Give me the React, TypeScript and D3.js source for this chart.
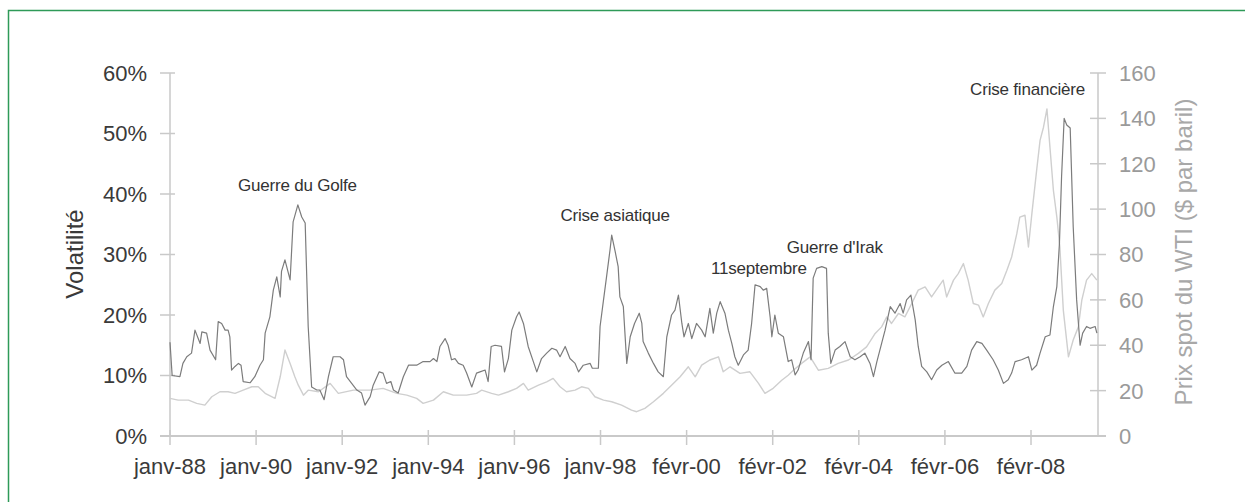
import React from "react";
import * as d3 from "d3";

// Volatility (% , left axis) — dates as decimal years
const volDates = [
  1988.0, 1988.05, 1988.23, 1988.3, 1988.39, 1988.5, 1988.58, 1988.7, 1988.74, 1988.85, 1988.93,
  1989.06, 1989.12, 1989.2, 1989.28, 1989.35, 1989.39, 1989.43, 1989.51, 1989.59, 1989.65, 1989.7,
  1989.86, 1989.97, 1990.09, 1990.17, 1990.21, 1990.32, 1990.4, 1990.48, 1990.56, 1990.59, 1990.67,
  1990.79, 1990.86, 1990.97, 1991.06, 1991.14, 1991.21, 1991.29, 1991.41, 1991.48, 1991.58, 1991.68,
  1991.79, 1991.95, 1992.03, 1992.1, 1992.22, 1992.34, 1992.45, 1992.53, 1992.65, 1992.72, 1992.86,
  1992.95, 1993.03, 1993.13, 1993.19, 1993.3, 1993.42, 1993.54, 1993.73, 1993.88, 1994.04, 1994.12,
  1994.2, 1994.27, 1994.39, 1994.46, 1994.54, 1994.62, 1994.7, 1994.81, 1994.89, 1995.01, 1995.12,
  1995.2, 1995.32, 1995.39, 1995.46, 1995.55, 1995.7, 1995.77, 1995.86, 1995.94, 1996.05, 1996.11,
  1996.21, 1996.32, 1996.44, 1996.52, 1996.63, 1996.75, 1996.87, 1996.98, 1997.06, 1997.18, 1997.29,
  1997.41, 1997.49, 1997.6, 1997.76, 1997.81, 1997.95, 1997.99, 1998.07, 1998.14, 1998.22, 1998.26,
  1998.34, 1998.41, 1998.45, 1998.53, 1998.61, 1998.69, 1998.79, 1998.9, 1998.96, 1998.99, 1999.11,
  1999.23, 1999.34, 1999.46, 1999.54, 1999.65, 1999.73, 1999.81, 1999.89, 1999.94, 2000.04, 2000.12,
  2000.23, 2000.35, 2000.43, 2000.54, 2000.62, 2000.7, 2000.78, 2000.89, 2000.97, 2001.05, 2001.12,
  2001.2, 2001.32, 2001.43, 2001.51, 2001.59, 2001.71, 2001.78, 2001.86, 2001.94, 2001.98, 2002.05,
  2002.13, 2002.25, 2002.36, 2002.44, 2002.52, 2002.59, 2002.71, 2002.83, 2002.89, 2002.94, 2003.02,
  2003.14, 2003.25, 2003.29, 2003.35, 2003.45, 2003.56, 2003.68, 2003.8, 2003.91, 2004.03, 2004.14,
  2004.26, 2004.34, 2004.42, 2004.53, 2004.61, 2004.73, 2004.84, 2004.96, 2005.03, 2005.11, 2005.21,
  2005.31, 2005.38, 2005.46, 2005.58, 2005.69, 2005.81, 2005.93, 2006.08, 2006.23, 2006.39, 2006.51,
  2006.62, 2006.74, 2006.86, 2006.97, 2007.12, 2007.24, 2007.36, 2007.47, 2007.55, 2007.63, 2007.78,
  2007.94, 2008.02, 2008.13, 2008.21, 2008.33, 2008.44, 2008.52, 2008.6, 2008.66, 2008.71, 2008.77,
  2008.83, 2008.91, 2008.98, 2009.06, 2009.14, 2009.2, 2009.29, 2009.37, 2009.49, 2009.53,
];
const volValues = [
  15.5, 10.0, 9.8, 12.0, 13.1, 13.7, 17.5, 15.3, 17.2, 17.0, 14.2,
  12.6, 18.9, 18.6, 17.5, 17.5, 16.4, 10.9, 11.5, 12.0, 11.7, 9.0,
  8.8, 9.8, 11.7, 12.6, 17.0, 19.7, 24.1, 26.3, 23.0, 27.2, 29.1,
  25.8, 35.4, 38.2, 36.2, 35.2, 18.1, 8.1, 7.6, 7.6, 6.0, 9.8,
  13.1, 13.1, 12.6, 9.8, 8.7, 7.6, 7.1, 5.1, 6.5, 8.4, 10.6,
  10.4, 8.7, 9.0, 7.6, 7.1, 9.8, 11.7, 11.7, 12.3, 12.3, 12.8,
  12.3, 14.8, 16.1, 15.0, 12.6, 12.8, 12.0, 11.7, 10.4, 8.1, 10.4,
  10.6, 10.9, 9.0, 14.8, 15.0, 14.8, 10.6, 12.8, 17.5, 19.7, 20.5,
  18.6, 14.8, 12.3, 10.6, 12.8, 13.7, 14.5, 14.2, 13.1, 14.8, 12.8,
  12.0, 10.6, 11.7, 12.0, 11.2, 11.2, 18.1, 22.5, 26.3, 30.7, 33.2,
  30.5, 28.0, 23.0, 21.4, 12.0, 16.4, 18.6, 20.3, 18.6, 15.6, 13.7,
  12.0, 10.6, 9.8, 16.4, 20.0, 20.8, 23.3, 18.6, 16.4, 18.6, 16.1,
  18.6, 17.5, 16.4, 21.1, 17.0, 20.3, 22.2, 20.3, 17.5, 15.3, 13.1,
  11.7, 13.4, 14.2, 18.6, 25.0, 24.7, 24.1, 24.4, 19.7, 16.4, 20.0,
  17.0, 16.4, 12.3, 12.6, 10.1, 10.9, 13.7, 15.6, 12.6, 26.1, 27.7,
  28.0, 27.7, 17.0, 12.0, 14.2, 14.8, 15.6, 13.1, 12.6, 13.1, 13.7,
  12.0, 9.8, 12.3, 15.3, 17.5, 21.4, 20.3, 21.9, 20.3, 22.5, 23.3,
  19.2, 14.8, 11.5, 10.6, 9.3, 10.9, 11.7, 12.3, 10.4, 10.4, 11.5,
  14.2, 15.6, 15.3, 14.2, 12.6, 10.9, 8.7, 9.3, 10.4, 12.3, 12.6,
  13.1, 10.9, 11.7, 13.7, 16.4, 16.7, 21.4, 24.7, 31.8, 42.9, 52.5,
  51.4, 50.9, 34.6, 22.5, 15.0, 17.0, 18.1, 17.8, 18.1, 17.0,
];

// WTI spot price ($ per barrel, right axis)
const priceDates = [
  1988.0, 1988.19, 1988.43, 1988.62, 1988.81, 1988.97, 1989.16, 1989.35, 1989.51, 1989.7, 1989.9,
  1990.05, 1990.21, 1990.44, 1990.56, 1990.67, 1990.79, 1990.9, 1990.98, 1991.1, 1991.21, 1991.45,
  1991.72, 1991.91, 1992.26, 1992.65, 1992.95, 1993.27, 1993.5, 1993.73, 1993.88, 1994.12, 1994.35,
  1994.58, 1994.89, 1995.12, 1995.24, 1995.47, 1995.63, 1995.86, 1996.05, 1996.21, 1996.32, 1996.56,
  1996.75, 1996.9, 1997.06, 1997.21, 1997.41, 1997.56, 1997.72, 1997.87, 1998.07, 1998.26, 1998.49,
  1998.72, 1998.84, 1999.03, 1999.23, 1999.46, 1999.65, 1999.85, 2000.04, 2000.2, 2000.35, 2000.54,
  2000.74, 2000.85, 2001.01, 2001.24, 2001.47, 2001.67, 2001.82, 2002.01, 2002.21, 2002.36, 2002.48,
  2002.67, 2002.87, 2003.06, 2003.29, 2003.52, 2003.76, 2003.99, 2004.18, 2004.38, 2004.53, 2004.65,
  2004.76, 2004.92, 2005.07, 2005.23, 2005.38, 2005.54, 2005.69, 2005.85, 2005.96, 2006.04, 2006.2,
  2006.31, 2006.43, 2006.54, 2006.66, 2006.78, 2006.89, 2007.01, 2007.16, 2007.32, 2007.44, 2007.55,
  2007.67, 2007.74, 2007.86, 2007.94, 2008.02, 2008.13, 2008.21, 2008.29, 2008.37, 2008.44, 2008.52,
  2008.6, 2008.67, 2008.75, 2008.87, 2008.98, 2009.1, 2009.18, 2009.29, 2009.41, 2009.53,
];
const priceValues = [
  16.6, 15.8, 15.8, 14.4, 13.6, 17.3, 19.5, 19.5, 18.8, 20.2, 21.7,
  21.7, 18.8, 16.6, 26.1, 37.9, 32.0, 26.1, 22.4, 18.0, 20.2, 19.5,
  23.2, 18.8, 20.2, 20.2, 21.0, 18.8, 18.0, 16.6, 14.4, 15.8, 19.5,
  18.0, 18.0, 18.8, 20.2, 18.8, 18.0, 19.5, 21.0, 23.2, 20.2, 22.4,
  23.9, 25.4, 21.7, 19.5, 20.2, 21.7, 21.0, 17.3, 15.8, 15.1, 13.6,
  11.4, 10.7, 12.2, 15.1, 18.8, 22.4, 26.1, 30.5, 26.1, 31.2, 33.5,
  34.9, 28.3, 30.5, 27.6, 28.3, 23.2, 18.8, 21.0, 24.6, 26.8, 29.0,
  32.0, 34.9, 29.0, 29.8, 32.0, 33.5, 36.4, 39.3, 45.2, 48.1, 52.5,
  49.6, 54.0, 52.5, 58.4, 64.3, 65.7, 61.3, 65.7, 68.7, 61.3, 68.7,
  71.6, 76.0, 68.7, 58.4, 57.7, 52.5, 58.4, 64.3, 67.2, 73.1, 78.9,
  89.2, 96.5, 97.3, 83.3, 98.0, 117.0, 130.3, 136.1, 144.2, 127.3, 108.3,
  96.5, 83.3, 55.5, 34.9, 42.3, 48.1, 59.9, 68.7, 71.6, 68.7,
];

const leftTicks = [0, 10, 20, 30, 40, 50, 60];
const rightTicks = [0, 20, 40, 60, 80, 100, 120, 140, 160];
const xTickValues = [1988, 1990, 1992, 1994, 1996, 1998, 2000, 2002, 2004, 2006, 2008];
const xTickLabels = [
  "janv-88", "janv-90", "janv-92", "janv-94", "janv-96", "janv-98",
  "févr-00", "févr-02", "févr-04", "févr-06", "févr-08",
];

const annotationLabels = ["Guerre du Golfe", "Crise asiatique", "11septembre", "Guerre d'Irak", "Crise financière"];
const annotationDates = [1990.96, 1998.34, 2001.68, 2003.44, 2007.92];
const annotationLevels = [41.5, 36.5, 27.8, 31.2, 57.3];

const FONT = "'Liberation Sans', Arial, Helvetica, sans-serif";

export default function App() {
  const W = 1245;
  const H = 502;
  const x = d3.scaleLinear().domain([1988, 2009.556]).range([170, 1098]);
  const yL = d3.scaleLinear().domain([0, 60]).range([436, 73]);
  const yR = d3.scaleLinear().domain([0, 160]).range([436, 73]);

  const volLine = d3
    .line<number>()
    .x((_, i) => x(volDates[i]))
    .y((d) => yL(d));
  const priceLine = d3
    .line<number>()
    .x((_, i) => x(priceDates[i]))
    .y((d) => yR(d));

  const axisColor = "#c9c9c9";
  const x0 = x.range()[0];
  const x1 = x.range()[1];
  const yb = yL(0);

  return (
    <svg
      width={W}
      height={H}
      style={{ position: "absolute", left: 0, top: 0, background: "#fff" }}
      fontFamily={FONT}
    >
      <rect x={0} y={0} width={W} height={H} fill="#fff" />
      <rect x={8.5} y={10.5} width={1260} height={520} fill="none" stroke="#2e9a58" strokeWidth={1.5} />

      {/* axes */}
      <line x1={x0} x2={x0} y1={yL(60)} y2={yb} stroke={axisColor} strokeWidth={1.5} />
      <line x1={x1} x2={x1} y1={yR(160)} y2={yb} stroke={axisColor} strokeWidth={1.5} />
      <line x1={x0 - 10} x2={x1 + 8} y1={yb} y2={yb} stroke={axisColor} strokeWidth={2} />

      {leftTicks.map((t) => (
        <g key={"l" + t}>
          <line x1={x0 - 10} x2={x0 + 5} y1={yL(t)} y2={yL(t)} stroke={axisColor} strokeWidth={1.5} />
          <text x={147} y={yL(t)} dy="0.36em" textAnchor="end" fontSize={22} fill="#3a3a3a">
            {t + "%"}
          </text>
        </g>
      ))}
      {rightTicks.map((t) => (
        <g key={"r" + t}>
          <line x1={x1 - 8} x2={x1 + 8} y1={yR(t)} y2={yR(t)} stroke={axisColor} strokeWidth={1.5} />
          <text x={1119} y={yR(t)} dy="0.36em" textAnchor="start" fontSize={22} fill="#9a9a9a">
            {t}
          </text>
        </g>
      ))}
      {xTickValues.map((t, i) => (
        <g key={"x" + t}>
          <line x1={x(t)} x2={x(t)} y1={yb - 6} y2={yb + 9} stroke={axisColor} strokeWidth={1.5} />
          <text x={x(t)} y={474} textAnchor="middle" fontSize={22} fill="#3a3a3a">
            {xTickLabels[i]}
          </text>
        </g>
      ))}

      <text
        transform={`translate(83, 254) rotate(-90)`}
        textAnchor="middle"
        fontSize={24}
        fill="#3a3a3a"
      >
        Volatilité
      </text>
      <text
        transform={`translate(1192, 252) rotate(-90)`}
        textAnchor="middle"
        fontSize={24}
        fill="#a8a8a8"
      >
        Prix spot du WTI ($ par baril)
      </text>

      {/* series */}
      <path d={priceLine(priceValues) || ""} fill="none" stroke="#cfcfcf" strokeWidth={1.4} strokeLinejoin="round" />
      <path d={volLine(volValues) || ""} fill="none" stroke="#7c7c7c" strokeWidth={1.2} strokeLinejoin="round" />

      {annotationLabels.map((label, i) => (
        <text
          key={label}
          x={x(annotationDates[i])}
          y={yL(annotationLevels[i])}
          dy="0.36em"
          textAnchor="middle"
          fontSize={17}
          letterSpacing={-0.2}
          fill="#333"
        >
          {label}
        </text>
      ))}
    </svg>
  );
}
